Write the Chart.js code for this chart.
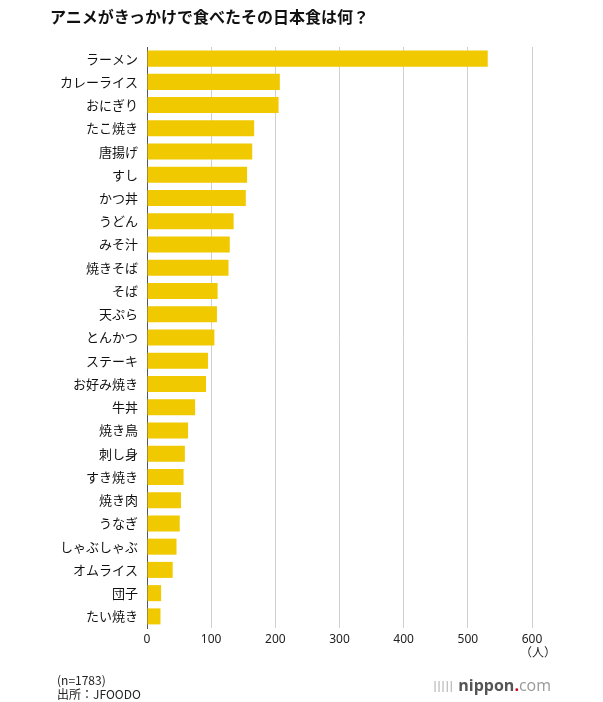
<!DOCTYPE html>
<html lang="ja">
<head>
<meta charset="utf-8">
<script src="https://cdn.jsdelivr.net/npm/chart.js@4"></script>
<style>
  body { margin: 0; background: #fff; font-family: "Noto Sans CJK JP", "Noto Sans", sans-serif; }
  #wrap { position: relative; width: 603px; height: 702px; }
  #chart { position: absolute; left: 0; top: 0; }
  .txt { position: absolute; color: #222; white-space: nowrap; }
  #title { left: 50px; top: 4px; font-size: 16px; font-weight: bold; color: #111; }
  #unit { left: 520px; top: 643px; font-size: 12px; }
  #note1 { left: 57px; top: 671px; font-size: 12px; }
  #note2 { left: 57px; top: 685px; font-size: 12px; }
  #logo { left: 432px; top: 674px; font-size: 16px; font-family: "Open Sans", sans-serif; color: #555; }
  #logo .bars { color: #bbb; font-size: 11px; font-weight: bold; letter-spacing: -2px; margin-right: 6px; vertical-align: 2px; }
  #logo .nip { font-weight: bold; }
  #logo .dot { color: #d0001a; font-weight: bold; }
  #logo .com { color: #999; }
</style>
</head>
<body>
<div id="wrap">
  <canvas id="chart" width="603" height="702"></canvas>
  <div class="txt" id="title">アニメがきっかけで食べたその日本食は何？</div>
  <div class="txt" id="unit">（人）</div>
  <div class="txt" id="note1">(n=1783)</div>
  <div class="txt" id="note2">出所：JFOODO</div>
  <div class="txt" id="logo"><span class="bars">|||||</span><span class="nip">nippon</span><span class="dot">.</span><span class="com">com</span></div>
</div>
<script>
const foods = ['ラーメン', 'カレーライス', 'おにぎり', 'たこ焼き', '唐揚げ', 'すし', 'かつ丼', 'うどん', 'みそ汁', '焼きそば',
  'そば', '天ぷら', 'とんかつ', 'ステーキ', 'お好み焼き', '牛丼', '焼き鳥', '刺し身', 'すき焼き', '焼き肉',
  'うなぎ', 'しゃぶしゃぶ', 'オムライス', '団子', 'たい焼き'];
const people = [531, 207, 205, 167, 164, 156, 154, 135, 129, 127,
  110, 109, 105, 95, 92, 75, 64, 59, 57, 53,
  51, 46, 40, 22, 21];
const xTicks = [0, 100, 200, 300, 400, 500, 600];

const ctx = document.getElementById('chart');
const chart = new Chart(ctx, {
  type: 'bar',
  data: {
    labels: foods,
    datasets: [{
      data: people,
      backgroundColor: '#f1c900',
      categoryPercentage: 1,
      barPercentage: 0.69
    }]
  },
  options: {
    indexAxis: 'y',
    responsive: false,
    animation: false,
    layout: { padding: { top: 47, right: 71, bottom: 0, left: 0 } },
    plugins: { legend: { display: false }, tooltip: { enabled: false } },
    scales: {
      x: {
        min: 0,
        max: 600,
        afterFit: s => { s.height = 74; },
        afterBuildTicks: s => { s.ticks = xTicks.map(v => ({ value: v })); },
        grid: { color: '#d0d0d0', drawTicks: false, lineWidth: 1 },
        border: { display: false },
        ticks: { padding: 4, color: '#222', font: { family: 'Noto Sans', size: 12 } }
      },
      y: {
        afterFit: s => { s.width = 147; },
        grid: { display: false, drawTicks: false },
        border: { display: true, color: '#555', width: 1 },
        ticks: { padding: 9, color: '#111', font: { family: 'Noto Sans CJK JP', size: 13 } }
      }
    }
  }
});
</script>
</body>
</html>
